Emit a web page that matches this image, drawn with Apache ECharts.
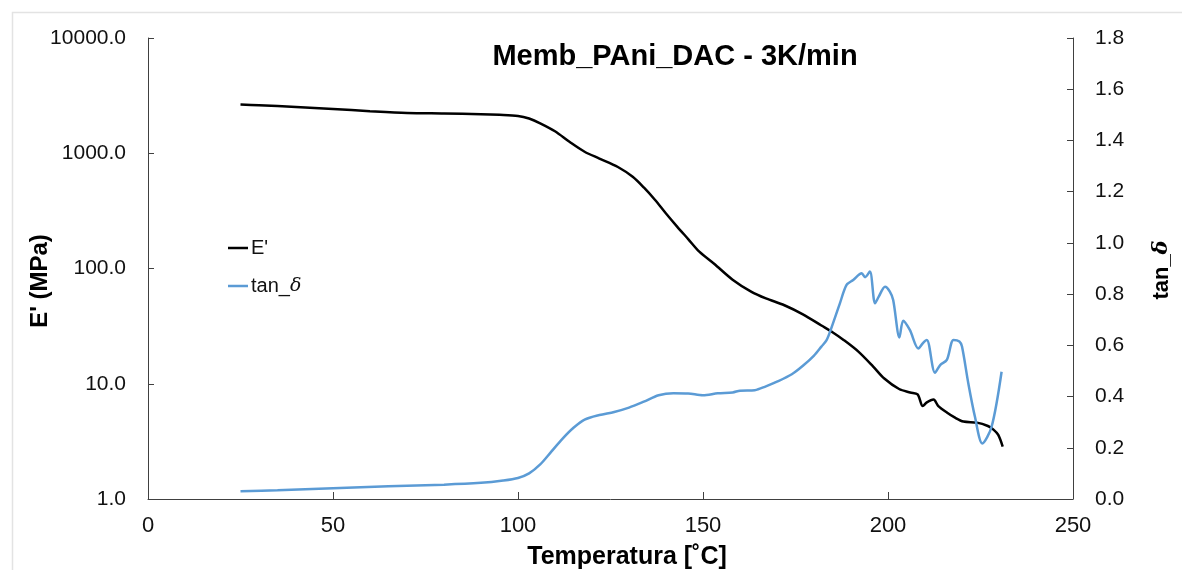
<!DOCTYPE html>
<html>
<head>
<meta charset="utf-8">
<script src="https://cdn.jsdelivr.net/npm/echarts@6/dist/echarts.min.js"></script>
<style>
html,body{margin:0;padding:0;background:#fff;}
#c{width:1182px;height:570px;}
</style>
</head>
<body>
<div id="c"></div>
<script>
const chartTitle = "Memb_PAni_DAC - 3K/min";
const xTitle = "Temperatura [˚C]";
const yLeftTitle = "E' (MPa)";
const seriesNames = ["E'", "tan_δ"];

// Temperature [°C] and storage modulus E' [MPa]
const eTemp = [25, 30, 40, 50, 60, 70, 80, 90, 95, 100, 103, 106, 110, 114, 118, 122, 127, 131, 134, 137, 140, 143, 146, 149, 153, 158, 163, 167, 172, 177, 182, 185, 188, 192, 196, 199, 203, 206, 208, 209.4, 210.5, 212.3, 213.6, 216, 218, 220.4, 224, 227, 228.5, 229.8, 231];
const eMod  = [2650, 2610, 2520, 2420, 2320, 2240, 2215, 2185, 2155, 2105, 2000, 1820, 1550, 1250, 1030, 900, 760, 625, 505, 395, 300, 231, 180, 140, 110, 80, 63, 55, 48, 40, 32, 28, 24, 19, 14.1, 11.1, 9.0, 8.4, 8.1, 6.4, 6.9, 7.3, 6.4, 5.6, 5.1, 4.7, 4.6, 4.3, 4.0, 3.6, 2.85];

// Temperature [°C] and tan delta
const tTemp = [25, 35, 50, 65, 80, 90, 96, 100, 103, 106, 109, 112, 115, 118, 122, 126, 130, 134, 138, 142, 146, 150, 154, 158, 160, 164, 167, 170, 174, 177, 180, 182, 183.4, 184.5, 187, 188.8, 190.6, 192.9, 193.8, 195.1, 196.5, 197.5, 199.2, 200.5, 201.4, 203.1, 204.1, 205.9, 208.2, 209.5, 210.5, 212.7, 214.1, 215.9, 217.7, 219.3, 220.0, 221.7, 223.5, 225.5, 228.0, 230.7];
const tanD  = [0.03, 0.034, 0.042, 0.05, 0.056, 0.063, 0.072, 0.082, 0.1, 0.135, 0.185, 0.235, 0.278, 0.31, 0.328, 0.34, 0.357, 0.38, 0.405, 0.413, 0.412, 0.405, 0.413, 0.416, 0.423, 0.425, 0.44, 0.458, 0.487, 0.52, 0.56, 0.595, 0.62, 0.66, 0.764, 0.836, 0.855, 0.881, 0.866, 0.888, 0.764, 0.79, 0.829, 0.81, 0.777, 0.631, 0.696, 0.66, 0.588, 0.61, 0.621, 0.493, 0.523, 0.543, 0.621, 0.615, 0.595, 0.452, 0.321, 0.217, 0.282, 0.497];

const xTicks = [0, 50, 100, 150, 200, 250];
const leftTicks = [1, 10, 100, 1000, 10000];
const rightTickStep = 0.2;

const FONT = "Liberation Sans, Arial, Helvetica, sans-serif";
const AXIS_COLOR = "#404040";

const chart = echarts.init(document.getElementById('c'));
chart.setOption({
  animation: false,
  backgroundColor: '#fff',
  grid: {left: 148, right: 109, top: 38, bottom: 71, containLabel: false},
  legend: {
    orient: 'vertical', left: 223, top: 233,
    icon: 'rect', itemWidth: 20, itemHeight: 2.5, itemGap: 18,
    data: seriesNames,
    formatter: function (n) { return n === "tan_δ" ? '{n|tan_}{i|δ}' : '{n|' + n + '}'; },
    textStyle: {
      fontFamily: FONT, fontSize: 20, color: '#111', padding: [0,0,0,-2],
      rich: {
        n: {fontFamily: FONT, fontSize: 20, color: '#111', lineHeight: 22},
        i: {fontFamily: "DejaVu Serif, serif", fontStyle: 'italic', fontSize: 19, color: '#111', lineHeight: 22}
      }
    }
  },
  xAxis: {
    type: 'value', min: xTicks[0], max: xTicks[xTicks.length-1], interval: 50,
    axisLine: {lineStyle: {color: AXIS_COLOR, width: 1}},
    axisTick: {inside: true, length: 7, lineStyle: {color: AXIS_COLOR}},
    axisLabel: {fontFamily: FONT, fontSize: 22, color: '#111', margin: 16},
    splitLine: {show: false}
  },
  yAxis: [
    {
      type: 'log', logBase: 10, min: leftTicks[0], max: leftTicks[leftTicks.length-1],
      axisLine: {show: true, lineStyle: {color: AXIS_COLOR, width: 1}},
      axisTick: {show: true, inside: true, length: 6, lineStyle: {color: AXIS_COLOR}},
      axisLabel: {fontFamily: FONT, fontSize: 21, color: '#111', margin: 22,
        formatter: function (v) { return Number(v).toFixed(1); }},
      splitLine: {show: false},
      minorTick: {show: false}
    },
    {
      type: 'value', min: 0, max: 1.8, interval: rightTickStep, position: 'right',
      axisLine: {show: true, lineStyle: {color: AXIS_COLOR, width: 1}},
      axisTick: {show: true, inside: true, length: 6, lineStyle: {color: AXIS_COLOR}},
      axisLabel: {fontFamily: FONT, fontSize: 21, color: '#111', margin: 22,
        formatter: function (v) { return Number(v).toFixed(1); }},
      splitLine: {show: false}
    }
  ],
  series: [
    {
      name: seriesNames[0], type: 'line', yAxisIndex: 0, showSymbol: false, symbol: 'none',
      smooth: 0.3, lineStyle: {color: '#000', width: 2.5}, itemStyle: {color: '#000'},
      data: eTemp.map((t, i) => [t, eMod[i]])
    },
    {
      name: seriesNames[1], type: 'line', yAxisIndex: 1, showSymbol: false, symbol: 'none',
      smooth: 0.3, lineStyle: {color: '#5b9bd5', width: 2.5}, itemStyle: {color: '#5b9bd5'},
      data: tTemp.map((t, i) => [t, tanD[i]])
    }
  ],
  graphic: [
    {type: 'rect', left: 10, top: 10, shape: {width: 1200, height: 600},
      style: {fill: 'none', stroke: '#e3e3e3', lineWidth: 1.5}, silent: true, z: -1},
    {type: 'text', x: 675, y: 57, style: {text: chartTitle, font: 'bold 29px ' + FONT,
      fill: '#000', textAlign: 'center', textVerticalAlign: 'middle'}},
    {type: 'text', x: 627, y: 557, style: {text: xTitle, font: 'bold 25px ' + FONT,
      fill: '#000', textAlign: 'center', textVerticalAlign: 'middle'}},
    {type: 'text', x: 40, y: 281, rotation: Math.PI / 2, style: {text: yLeftTitle, font: 'bold 24px ' + FONT,
      fill: '#000', textAlign: 'center', textVerticalAlign: 'middle'}},
    {type: 'text', x: 1162, y: 270, rotation: Math.PI / 2, style: {
      text: '{b|tan_}{d|δ}', fill: '#000', textAlign: 'center', textVerticalAlign: 'middle',
      rich: {b: {font: 'bold 22px ' + FONT, fill: '#000'}, d: {font: 'italic bold 21px DejaVu Serif, serif', fill: '#000'}}}}
  ]
});
</script>
</body>
</html>
